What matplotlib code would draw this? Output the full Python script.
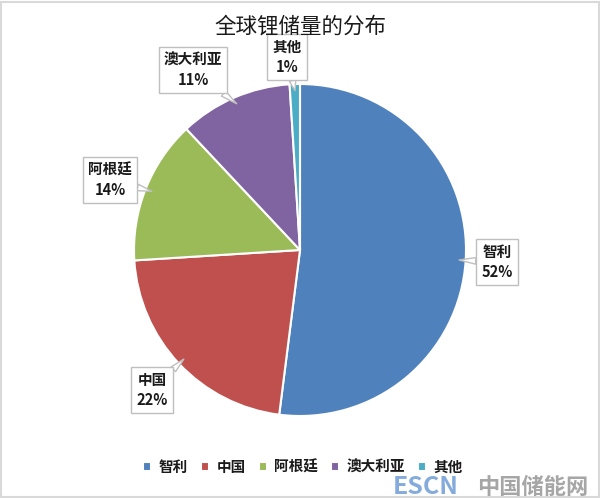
import matplotlib
matplotlib.use("Agg")
import matplotlib.pyplot as plt
from matplotlib.patches import Rectangle
import numpy as np

plt.rcParams['font.family'] = ['Noto Sans CJK SC', 'DejaVu Sans']

title = "全球锂储量的分布"
countries = ["智利", "中国", "阿根廷", "澳大利亚", "其他"]
shares = [52, 22, 14, 11, 1]
colors = ["#4F81BD", "#C0504D", "#9BBB59", "#8064A2", "#4BACC6"]
# callout box centres (pixel coordinates, y measured from the top)
label_pos = [(497, 262), (152, 390), (110, 180), (193, 70), (287, 57)]

W, H = 600, 498
fig = plt.figure(figsize=(W / 100, H / 100), dpi=100)
ax = fig.add_axes([0, 0, 1, 1])

cx, cy, r = 300, H - 250, 166
wedges, _ = ax.pie(shares, colors=colors, startangle=90, counterclock=False,
                   center=(cx, cy), radius=r, frame=True,
                   wedgeprops=dict(edgecolor='white', linewidth=1.5))
ax.set_xlim(0, W)
ax.set_ylim(0, H)
ax.set_aspect('equal')
ax.axis('off')

for w, name, val, (lx, ly) in zip(wedges, countries, shares, label_pos):
    ang = np.deg2rad((w.theta1 + w.theta2) / 2)
    px = cx + r * 0.96 * np.cos(ang)
    py = cy + r * 0.96 * np.sin(ang)
    ax.annotate(f"{name}\n{val}%", xy=(px, py), xytext=(lx, H - ly),
                ha='center', va='center', fontsize=10.5, fontweight='bold',
                color='#1a1a1a', linespacing=1.3,
                bbox=dict(boxstyle='square,pad=0.35', fc='white', ec='#bfbfbf', lw=1),
                arrowprops=dict(arrowstyle='wedge,tail_width=0.45,shrink_factor=0.5',
                                fc='white', ec='#bfbfbf', lw=1,
                                shrinkA=0, shrinkB=0))

fig.text(0.5, 1 - 27 / H, title, ha='center', va='center', fontsize=15.5,
         fontweight='medium', color='#1a1a1a')

leg = fig.legend(wedges, countries, loc='center', bbox_to_anchor=(0.505, 1 - 467 / H),
                 ncol=5, frameon=False, handlelength=0.55, handleheight=0.55,
                 handletextpad=0.5, columnspacing=0.9,
                 prop=dict(size=10.5, weight='bold'))
for t in leg.get_texts():
    t.set_color('#1a1a1a')

# site watermark in the lower right corner
fig.text(0.655, 1 - 487 / H, "ESCN", fontsize=18, fontweight='bold', color='#5b8fd0',
         alpha=0.75, ha='left', va='center')
fig.text(0.795, 1 - 487 / H, "中国储能网", fontsize=16, fontweight='bold', color='#808080',
         alpha=0.7, ha='left', va='center')

fig.patches.append(Rectangle((0.002, 0.002), 0.996, 0.994, transform=fig.transFigure,
                             fill=False, ec='#d9d9d9', lw=1.5))

fig.savefig("out.png", dpi=100, facecolor='white')
